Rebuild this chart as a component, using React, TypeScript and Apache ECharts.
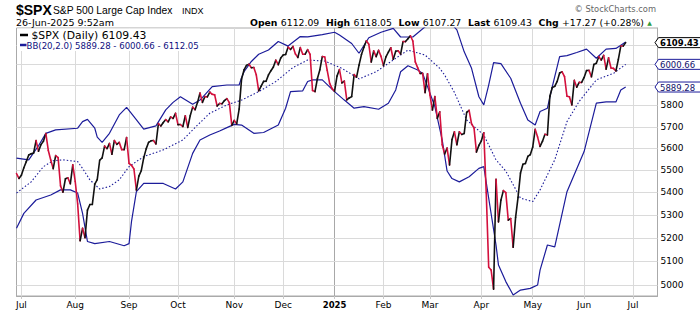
import { useEffect, useRef } from 'react';
import * as echarts from 'echarts';

// ---------- data ----------
const startDate = '2024-06-27';
const endDate = '2025-07-16';
const marketHolidays = ['2024-07-04', '2024-09-02', '2024-11-28', '2024-12-25', '2025-01-01', '2025-01-09', '2025-01-20', '2025-02-17', '2025-04-18', '2025-05-26', '2025-06-19', '2025-07-04'];
const monthNames = ['Jan', 'Feb', 'Mar', 'Apr', 'May', 'Jun', 'Jul', 'Aug', 'Sep', 'Oct', 'Nov', 'Dec'];

// $SPX daily closes, 27-Jun-2024 .. 26-Jun-2025 (last = intraday)
const closes = [
  5482.87, 5460.48, 5475.09, 5509.01, 5537.02, 5567.19, 5572.85, 5576.98, 5633.91, 5584.54,
  5615.35, 5631.22, 5667.20, 5588.27, 5544.59, 5505.00, 5564.41, 5555.74, 5427.13, 5399.22,
  5459.10, 5463.54, 5436.44, 5522.30, 5446.68, 5346.56, 5186.33, 5240.03, 5199.50, 5319.31,
  5344.16, 5344.39, 5434.43, 5455.21, 5543.22, 5554.25, 5608.25, 5597.12, 5620.85, 5570.64,
  5634.61, 5616.84, 5625.80, 5592.18, 5591.96, 5648.40, 5528.93, 5520.07, 5503.41, 5408.42,
  5471.05, 5495.52, 5554.13, 5595.76, 5626.02, 5633.09, 5634.58, 5618.26, 5713.64, 5702.55,
  5718.57, 5732.93, 5722.26, 5745.37, 5738.17, 5762.48, 5708.75, 5709.54, 5699.94, 5751.07,
  5695.94, 5751.13, 5792.04, 5780.05, 5815.03, 5859.85, 5815.26, 5842.47, 5841.47, 5864.67,
  5853.98, 5851.20, 5797.42, 5809.86, 5808.12, 5823.52, 5832.92, 5813.67, 5705.45, 5728.80,
  5712.69, 5782.76, 5929.04, 5973.10, 5995.54, 6001.35, 5983.99, 5985.38, 5949.17, 5870.62,
  5893.62, 5916.98, 5917.11, 5948.71, 5969.34, 5987.37, 6021.63, 5998.74, 6032.38, 6047.15,
  6049.88, 6086.49, 6075.11, 6090.27, 6052.85, 6034.91, 6084.19, 6051.25, 6051.09, 6074.08,
  6050.61, 5872.16, 5867.08, 5930.85, 5974.07, 6040.04, 6037.59, 5970.84, 5906.94, 5881.63,
  5868.55, 5942.47, 5975.38, 5909.03, 5918.25, 5827.04, 5836.22, 5842.91, 5949.91, 5937.34,
  5996.66, 6049.24, 6086.37, 6118.71, 6101.24, 6012.28, 6067.70, 6039.31, 6071.17, 6040.53,
  5994.57, 6037.88, 6061.48, 6083.57, 6025.99, 6066.44, 6068.50, 6051.97, 6115.07, 6114.63,
  6129.58, 6144.15, 6117.52, 6013.13, 5983.25, 5955.25, 5956.06, 5861.57, 5954.50, 5849.72,
  5778.15, 5842.63, 5738.52, 5770.20, 5614.56, 5572.07, 5599.30, 5521.52, 5638.94, 5675.12,
  5614.66, 5675.29, 5662.89, 5667.56, 5767.57, 5776.65, 5712.20, 5693.31, 5580.94, 5611.85,
  5633.07, 5670.97, 5396.52, 5074.08, 5062.25, 4982.77, 5456.90, 5268.05, 5363.36, 5405.97,
  5396.63, 5275.70, 5282.70, 5158.20, 5287.76, 5375.86, 5484.77, 5525.21, 5528.75, 5560.83,
  5569.06, 5604.14, 5686.67, 5650.38, 5606.91, 5631.28, 5663.94, 5659.91, 5844.19, 5886.55,
  5892.58, 5916.93, 5958.38, 5963.60, 5940.46, 5844.61, 5842.01, 5802.82, 5921.54, 5888.55,
  5912.17, 5911.69, 5935.94, 5970.37, 5970.81, 5939.30, 6000.36, 6005.88, 6038.81, 6022.24,
  6045.26, 5976.97, 6033.11, 5982.72, 5980.87, 5967.84, 6025.17, 6092.18, 6092.16, 6109.43,
];

// Bollinger band (20, 2.0) readings: [trading-day index, value]
const bbUpper = [
  [0, 5553], [5, 5545], [9, 5610], [12, 5668], [16, 5684], [25, 5692], [27, 5723], [29, 5734], [32, 5692], [33, 5650],
  [35, 5626], [38, 5668], [42, 5755], [45, 5791], [48, 5747], [52, 5688], [57, 5703], [61, 5779], [64, 5815], [67, 5842],
  [72, 5806], [75, 5826], [80, 5891], [86, 5899], [91, 5899], [92, 5935], [93, 5964], [96, 6015], [99, 6051], [103, 6072],
  [107, 6115], [111, 6092], [116, 6140], [119, 6139], [125, 6150], [130, 6162], [132, 6148], [137, 6105], [140, 6056], [144, 6134],
  [149, 6162], [154, 6182], [157, 6138], [162, 6138], [167, 6190], [171, 6225], [176, 6230], [180, 6174], [183, 6063], [186, 5981],
  [189, 5842], [191, 5803], [193, 5899], [195, 6009], [198, 6004], [202, 5932], [206, 5811], [209, 5731], [212, 5707], [214, 5771],
  [217, 5787], [219, 5891], [222, 6039], [225, 6044], [229, 6060], [233, 6077], [237, 6031], [241, 6077], [245, 6080], [249, 6112.05],
];
const bbMiddle = [
  [0, 5395], [6, 5445], [11, 5514], [15, 5541], [19, 5545], [25, 5537], [27, 5506], [30, 5454], [34, 5413], [38, 5424],
  [42, 5454], [46, 5514], [52, 5560], [60, 5591], [68, 5637], [74, 5707], [79, 5763], [86, 5803], [92, 5826], [99, 5867],
  [106, 5916], [113, 5985], [119, 6022], [126, 6017], [133, 5981], [140, 5929], [147, 5964], [153, 6014], [160, 6072], [167, 6047],
  [173, 5981], [175, 5948], [179, 5863], [184, 5731], [191, 5660], [196, 5545], [200, 5494], [206, 5372], [211, 5357], [214, 5409],
  [220, 5545], [225, 5723], [230, 5820], [237, 5924], [244, 5956], [249, 6000.66],
];
const bbLower = [
  [0, 5240], [3, 5305], [8, 5364], [14, 5386], [18, 5409], [22, 5409], [25, 5395], [27, 5305], [29, 5183], [32, 5174],
  [38, 5183], [44, 5165], [46, 5174], [47, 5269], [49, 5401], [52, 5438], [60, 5438], [65, 5413], [68, 5445], [72, 5575],
  [75, 5637], [79, 5660], [83, 5679], [86, 5695], [89, 5710], [92, 5707], [97, 5668], [101, 5672], [107, 5707], [110, 5787],
  [112, 5867], [117, 5871], [119, 5916], [121, 5924], [125, 5924], [130, 5867], [134, 5826], [138, 5787], [142, 5795], [148, 5782],
  [152, 5811], [155, 5875], [157, 5964], [160, 5994], [164, 5973], [166, 5956], [168, 5891], [171, 5795], [174, 5637], [176, 5494],
  [178, 5460], [181, 5445], [185, 5468], [189, 5506], [191, 5514], [193, 5372], [196, 5168], [197, 5083], [200, 5014], [203, 4959],
  [206, 4979], [210, 4986], [213, 5000], [214, 5062], [217, 5168], [220, 5160], [225, 5401], [232, 5583], [237, 5811], [241, 5817],
  [245, 5817], [247, 5875], [249, 5889.28],
];

const yGridValues = [5000, 5100, 5200, 5300, 5400, 5500, 5600, 5700, 5800, 5900, 6000, 6100];
const yLabelValues = [5000, 5100, 5200, 5300, 5400, 5500, 5600, 5700, 5800];

const quote = { open: '6112.09', high: '6118.05', low: '6107.27', last: '6109.43', chg: '+17.27', chgPct: '(+0.28%)' };

// ---------- helpers ----------
function tradingDays(): string[] {
  const out: string[] = [];
  const d = new Date(startDate + 'T00:00:00Z');
  const end = new Date(endDate + 'T00:00:00Z');
  while (d <= end) {
    const dow = d.getUTCDay();
    const s = d.toISOString().slice(0, 10);
    if (dow !== 0 && dow !== 6 && marketHolidays.indexOf(s) < 0) out.push(s);
    d.setUTCDate(d.getUTCDate() + 1);
  }
  return out;
}

const BLACK = '#111111';
const RED = '#d3103c';
const NAVY = '#1c1c9a';
const GRID = '#dadada';
const DV = "'DejaVu Sans', Verdana, sans-serif";
const LS = "'Liberation Sans', Arial, sans-serif";

export default function App() {
  const ref = useRef<HTMLDivElement>(null);
  useEffect(() => {
    const days = tradingDays();
    const isMonthStart = (i: number) => i > 0 && days[i].slice(5, 7) !== days[i - 1].slice(5, 7);
    const monthLineColors: string[] = [];
    days.forEach((d, i) => {
      if (isMonthStart(i)) monthLineColors.push(d.slice(5, 7) === '01' ? '#a8a8a8' : GRID);
    });
    const last = closes.length - 1;
    const segData = closes.slice(1).map((c, i) => [i, closes[i], c]);
    const badgeValues = [closes[last], bbMiddle[bbMiddle.length - 1][1], bbLower[bbLower.length - 1][1]];
    const lastCat = days.length - 1;

    const chart = echarts.init(ref.current!, null, { renderer: 'svg' });
    const option: any = {
      animation: false,
      backgroundColor: '#ffffff',
      grid: { left: 16.5, right: 42.5, top: 28, bottom: 16, show: true, borderColor: '#aaaaaa', borderWidth: 1, backgroundColor: 'transparent' },
      xAxis: {
        type: 'category',
        data: days,
        boundaryGap: false,
        axisLine: { show: true, lineStyle: { color: '#aaaaaa' } },
        axisTick: { show: true, interval: (i: number) => isMonthStart(i), length: 3, lineStyle: { color: '#c8c8c8' } },
        axisLabel: {
          interval: (i: number) => isMonthStart(i),
          formatter: (v: string) => {
            const m = parseInt(v.slice(5, 7), 10);
            return m === 1 ? `{y|${v.slice(0, 4)}}` : monthNames[m - 1];
          },
          color: '#000',
          fontFamily: DV,
          fontSize: 9,
          margin: 4,
          rich: { y: { fontFamily: DV, fontWeight: 'bold', fontSize: 8.5, color: '#000' } },
        },
        splitLine: { show: true, interval: (i: number) => isMonthStart(i), lineStyle: { color: monthLineColors, width: 1 } },
      },
      yAxis: {
        type: 'log',
        logBase: 10,
        min: 4954.7,
        max: 6183.8,
        position: 'right',
        axisLine: { show: true, lineStyle: { color: '#aaaaaa' } },
        axisTick: { show: false },
        splitLine: { show: false },
        axisLabel: {
          customValues: yLabelValues,
          formatter: (v: number) => String(Math.round(v)),
          color: '#000',
          fontFamily: DV,
          fontSize: 9,
          margin: 3,
        },
      },
      series: [
        {
          // horizontal grid lines every 100 points, placed through the log y scale
          type: 'custom',
          z: 3,
          clip: false,
          silent: true,
          data: yGridValues.map((v) => [lastCat, v]),
          encode: { x: 0, y: 1 },
          renderItem: (_p: any, api: any) => {
            const v = api.value(1);
            const a = api.coord([0, v]);
            const b = api.coord([lastCat, v]);
            const y = Math.round(a[1]);
            return {
              type: 'rect',
              z2: 0,
              shape: { x: a[0], y: y, width: b[0] - a[0], height: 1 },
              style: { fill: GRID },
            };
          },
        },
        {
          type: 'line', data: bbUpper, symbol: 'none', z: 3,
          lineStyle: { color: NAVY, width: 1.2 },
        },
        {
          type: 'line', data: bbMiddle, symbol: 'none', z: 3,
          lineStyle: { color: NAVY, width: 1.1, type: [1.5, 2] },
        },
        {
          type: 'line', data: bbLower, symbol: 'none', z: 3,
          lineStyle: { color: NAVY, width: 1.2 },
        },
        {
          type: 'custom',
          z: 4,
          data: segData,
          encode: { x: 0, y: [1, 2] },
          renderItem: (_p: any, api: any) => {
            const i = api.value(0);
            const v0 = api.value(1);
            const v1 = api.value(2);
            const a = api.coord([i, v0]);
            const b = api.coord([i + 1, v1]);
            return {
              type: 'line',
              shape: { x1: a[0], y1: a[1], x2: b[0], y2: b[1] },
              style: { stroke: v1 >= v0 ? BLACK : RED, lineWidth: 1.6, lineCap: 'round' },
            };
          },
        },
        {
          type: 'custom',
          z: 10,
          clip: false,
          data: badgeValues.map((v, k) => [lastCat, v, k]),
          encode: { x: 0, y: 1 },
          renderItem: (_p: any, api: any) => {
            const v = api.value(1);
            const k = api.value(2);
            const pt = api.coord([api.value(0), v]);
            const x0 = pt[0];
            const y = pt[1];
            const col = k === 0 ? '#000000' : NAVY;
            return {
              type: 'group',
              children: [
                {
                  type: 'polygon',
                  shape: { points: [[x0 - 2.5, y], [x0 + 1, y - 5], [x0 + 45, y - 5], [x0 + 45, y + 5], [x0 + 1, y + 5]] },
                  style: { fill: '#ffffff', stroke: col, lineWidth: 1 },
                },
                {
                  type: 'text',
                  x: x0 + 2.5,
                  y: y + 0.5,
                  style: {
                    text: Number(v).toFixed(2),
                    fill: k === 0 ? '#000000' : '#10106a',
                    fontFamily: DV,
                    fontSize: 8.5,
                    fontWeight: k === 0 ? 'bold' : 'normal',
                    verticalAlign: 'middle',
                    align: 'left',
                  },
                },
              ],
            };
          },
        },
      ],
      graphic: [
        { type: 'text', x: 16, y: 10, style: { text: '$SPX', fontFamily: LS, fontWeight: 'bold', fontSize: 14, fill: '#000', verticalAlign: 'middle' } },
        { type: 'text', x: 53, y: 10, style: { text: 'S&P 500 Large Cap Index', fontFamily: LS, fontSize: 10.3, fill: '#000', verticalAlign: 'middle' } },
        { type: 'text', x: 182, y: 10.5, style: { text: 'INDX', fontFamily: LS, fontSize: 9, fill: '#000', verticalAlign: 'middle' } },
        { type: 'text', x: 16, y: 22.5, style: { text: '26-Jun-2025 9:52am', fontFamily: DV, fontSize: 9.5, fill: '#000', verticalAlign: 'middle' } },
        { type: 'text', right: 44, y: 9, style: { text: '© StockCharts.com', fontFamily: DV, fontSize: 8.3, fill: '#666666', verticalAlign: 'middle' } },
        {
          type: 'text', x: 250, y: 22.5,
          style: {
            text: `{b|Open} {v|${quote.open}}  {b|High} {v|${quote.high}}  {b|Low} {v|${quote.low}}  {b|Last} {v|${quote.last}}  {b|Chg} {v|${quote.chg} ${quote.chgPct}} {g|▲}`,
            verticalAlign: 'middle',
            rich: {
              b: { fontFamily: DV, fontWeight: 'bold', fontSize: 9.3, fill: '#000' },
              v: { fontFamily: DV, fontSize: 9.3, fill: '#000' },
              g: { fontFamily: DV, fontSize: 6, fill: '#2e9a3a' },
            },
          },
        },
        { type: 'rect', z: 50, shape: { x: 17, y: 28.5, width: 183, height: 22.5 }, style: { fill: '#ffffff' } },
        { type: 'line', z: 51, shape: { x1: 20, y1: 35, x2: 28, y2: 35 }, style: { stroke: '#000', lineWidth: 2.5 } },
        { type: 'text', z: 51, x: 31.5, y: 35.5, style: { text: `$SPX (Daily) ${closes[last].toFixed(2)}`, fontFamily: DV, fontSize: 10.8, fill: '#000', verticalAlign: 'middle' } },
        { type: 'line', z: 51, shape: { x1: 20, y1: 45, x2: 26.5, y2: 45 }, style: { stroke: NAVY, lineWidth: 2.5 } },
        {
          type: 'text', z: 51, x: 26.5, y: 45.5,
          style: {
            text: `BB(20,2.0) ${bbLower[bbLower.length - 1][1].toFixed(2)} - ${bbMiddle[bbMiddle.length - 1][1].toFixed(2)} - ${bbUpper[bbUpper.length - 1][1].toFixed(2)}`,
            fontFamily: DV, fontSize: 8.6, fill: '#101080', verticalAlign: 'middle',
          },
        },
      ],
    };
    chart.setOption(option);
    return () => chart.dispose();
  }, []);
  return <div ref={ref} style={{ position: 'absolute', left: 0, top: 0, width: 700, height: 312 }} />;
}
